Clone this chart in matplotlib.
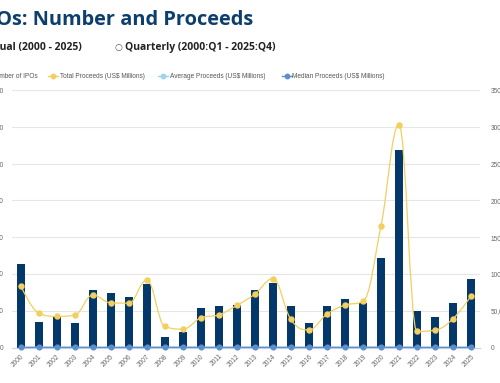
import numpy as np
import matplotlib.pyplot as plt
from matplotlib.path import Path
from matplotlib.patches import PathPatch
from matplotlib.lines import Line2D
from matplotlib.ticker import FuncFormatter

# data
years = [str(y) for y in range(2000, 2026)]
num_ipos = [454, 140, 167, 134, 314, 298, 276, 343, 55, 82, 216, 223, 231,
            312, 352, 223, 134, 223, 265, 243, 485, 1075, 198, 165, 243, 371]
total_proceeds = [83900, 46700, 42200, 44000, 71200, 60700, 60300, 91700,
                  28600, 24900, 40300, 44400, 57200, 72600, 93400, 38100,
                  24000, 45400, 57600, 62600, 164800, 302800, 21800, 23600,
                  39000, 69900]
avg_proceeds = [185, 334, 253, 328, 227, 204, 218, 267, 520, 304, 187, 199,
                248, 233, 265, 171, 179, 204, 217, 258, 340, 282, 110, 143,
                160, 188]
median_proceeds = [80, 90, 110, 120, 100, 110, 120, 130, 150, 160, 140, 130,
                   130, 150, 140, 110, 100, 120, 130, 140, 200, 210, 100, 90,
                   100, 120]

W, H = 500, 383
navy = '#04386b'
gold = '#f2cf5e'
lightblue = '#9fd3ee'
medblue = '#5d8ecb'
small = dict(family='Liberation Sans', size=4.7, color='#555555')


def px(x, y):
    return x / W, 1 - y / H


def spline_path(xs, ys, smoothing=1.5):
    # highcharts-like spline control points
    n = len(xs)
    lc = [(xs[i], ys[i]) for i in range(n)]
    rc = [(xs[i], ys[i]) for i in range(n)]
    d = smoothing + 1
    for i in range(1, n - 1):
        x0, y0 = xs[i - 1], ys[i - 1]
        x, y = xs[i], ys[i]
        x1, y1 = xs[i + 1], ys[i + 1]
        lx = (smoothing * x + x0) / d
        ly = (smoothing * y + y0) / d
        rx = (smoothing * x + x1) / d
        ry = (smoothing * y + y1) / d
        corr = (ry - ly) * (rx - x) / (rx - lx) + y - ry
        ly += corr
        ry += corr
        if ly > y0 and ly > y:
            ly = max(y0, y); ry = 2 * y - ly
        elif ly < y0 and ly < y:
            ly = min(y0, y); ry = 2 * y - ly
        if ry > y1 and ry > y:
            ry = max(y1, y); ly = 2 * y - ry
        elif ry < y1 and ry < y:
            ry = min(y1, y); ly = 2 * y - ry
        lc[i] = (lx, ly)
        rc[i] = (rx, ry)
    verts = [(xs[0], ys[0])]
    codes = [Path.MOVETO]
    for i in range(1, n):
        verts += [rc[i - 1], lc[i], (xs[i], ys[i])]
        codes += [Path.CURVE4] * 3
    return Path(verts, codes)


fig = plt.figure(figsize=(5, 3.83), dpi=100)
ax = fig.add_axes([11.7 / W, (H - 347.5) / H, (480 - 11.7) / W, (347.5 - 90) / H])
ax2 = ax.twinx()

x = np.arange(len(years))
ax.bar(x, num_ipos, width=0.45, color=navy, zorder=2)
ax.set_xlim(-0.5, len(years) - 0.5)
ax.set_ylim(0, 1400)
ax.set_yticks(range(0, 1401, 200))
ax.grid(axis='y', color='#e6e6e6', lw=0.8, zorder=0)
ax.set_axisbelow(True)

ax2.set_ylim(0, 350000)
ax2.set_yticks(range(0, 350001, 50000))
fmt = FuncFormatter(lambda v, p: f'{int(v):,}')
ax.yaxis.set_major_formatter(fmt)
ax2.yaxis.set_major_formatter(fmt)

ax2.add_patch(PathPatch(spline_path(list(x), total_proceeds), fill=False,
                        edgecolor=gold, lw=0.9, zorder=3))
ax2.plot(x, total_proceeds, 'o', color=gold, ms=3.6, zorder=4)
ax2.plot(x, avg_proceeds, '-', color=lightblue, lw=1, zorder=3, clip_on=False)
ax2.plot(x, median_proceeds, 'o-', color=medblue, lw=1, ms=3.4, zorder=4,
         clip_on=False)

for a in (ax, ax2):
    for s in ('top', 'left', 'right'):
        a.spines[s].set_visible(False)
    a.spines['bottom'].set_color('#ccd6eb')
    a.tick_params(length=0)

ax.tick_params(axis='y', pad=5.9, labelsize=4.7, labelcolor='#666666')
ax2.tick_params(axis='y', pad=7.8, labelsize=4.7, labelcolor='#666666')
ax.set_xticks(x)
ax.set_xticklabels(years, rotation=45, ha='right', va='top',
                   rotation_mode='anchor', fontsize=4.7, color='#666666',
                   family='Liberation Sans')
ax.tick_params(axis='x', pad=4)
for lab in ax.get_yticklabels() + ax2.get_yticklabels():
    lab.set_family('Liberation Sans')

# title and selector row
fig.text(*px(253, 25), 'IPOs: Number and Proceeds', ha='right', va='baseline',
         family='Open Sans', fontweight='bold', fontsize=14.4, color='#0d3f6e')
fig.text(*px(82, 47.5), 'Annual (2000 - 2025)', ha='right', va='center',
         family='Open Sans', fontweight='bold', fontsize=7.5, color='#222222')
fig.text(*px(118.5, 47.5), '○', ha='center', va='center',
         family='DejaVu Sans', fontsize=6.5, color='#555555')
fig.text(*px(125, 47.5), 'Quarterly (2000:Q1 - 2025:Q4)', ha='left',
         va='center', family='Open Sans', fontweight='bold', fontsize=7.5,
         color='#222222')

# legend row
ly = 76
fig.text(*px(38, ly), 'Number of IPOs', ha='right', va='center', **small)
items = [(53, gold, 'Total Proceeds (US$ Millions)', 60),
         (163, lightblue, 'Average Proceeds (US$ Millions)', 170),
         (286.5, medblue, 'Median Proceeds (US$ Millions)', 292)]
for cx, col, label, tx in items:
    x0, y0 = px(cx - 5, ly)
    x1, _ = px(cx + 5, ly)
    fig.add_artist(Line2D([x0, x1], [y0, y0], color=col, lw=1,
                          transform=fig.transFigure))
    fig.add_artist(Line2D([(x0 + x1) / 2], [y0], marker='o', ms=3.2,
                          color=col, transform=fig.transFigure))
    fig.text(*px(tx, ly), label, ha='left', va='center', **small)

fig.savefig('out.png', dpi=100)
